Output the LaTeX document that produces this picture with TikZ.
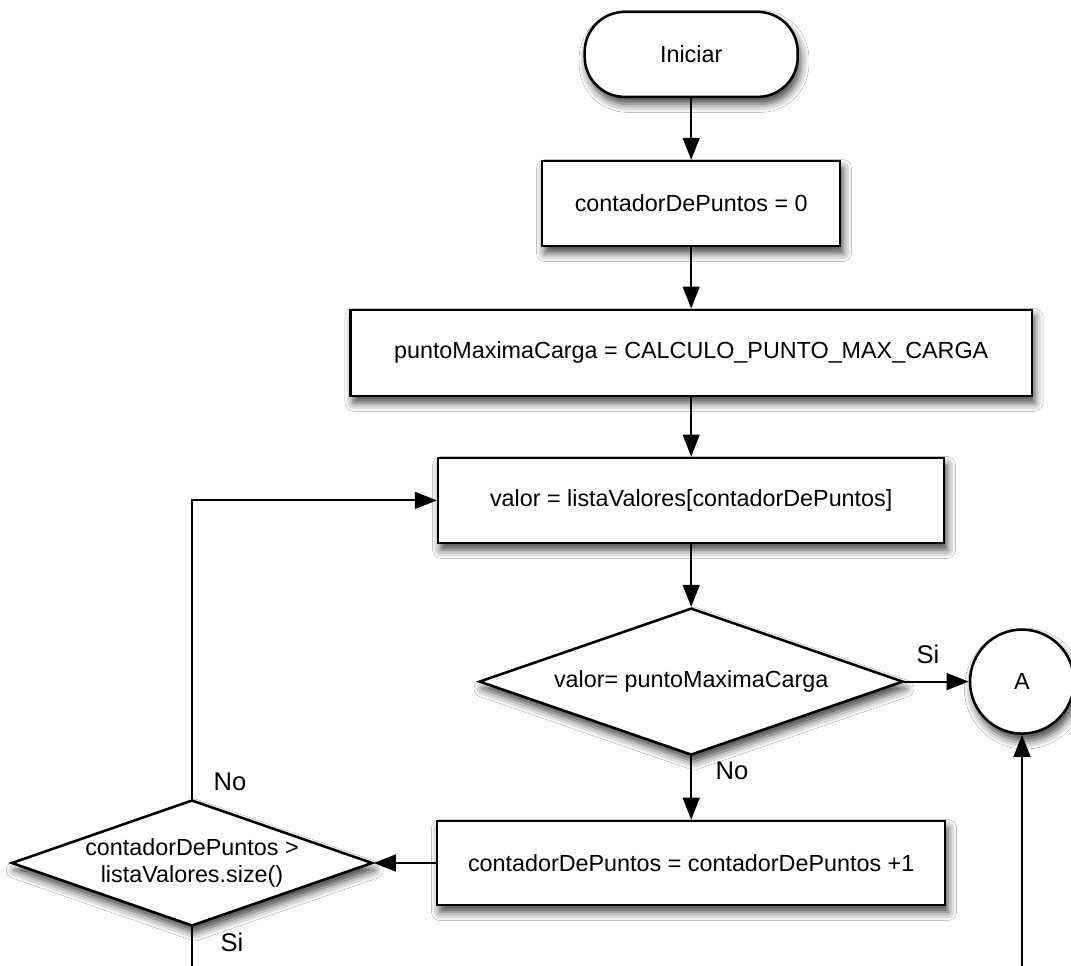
\documentclass[tikz,border=0pt]{standalone}
\usepackage{fontspec}
\setmainfont{Liberation Sans}
\usepackage{tikz}
\usetikzlibrary{arrows.meta,shapes.geometric,shadows.blur}

\begin{document}
\begin{tikzpicture}[
  font=\fontsize{16.6}{19.5}\selectfont,
  sh/.style={blur shadow={shadow xshift=2pt,shadow yshift=-5pt,shadow blur radius=6pt,shadow opacity=75}},
  proc/.style={draw,line width=1.8pt,fill=white,rectangle,inner sep=0pt,sh},
  term/.style={proc,rounded corners=1cm},
  dec/.style={draw,line width=1.8pt,fill=white,diamond,inner sep=0pt,align=center,sh},
  conn/.style={line width=1.4pt,-{Triangle[length=.55cm,width=.42cm]}},
  wire/.style={line width=1.4pt},
  lbl/.style={font=\fontsize{18.2}{21}\selectfont}]
\useasboundingbox[fill=white] (0,0) rectangle (26.775,24.15);

% main column
\node[term,minimum width=5.325cm,minimum height=2.125cm] (ini) at (17.28,22.79) {Iniciar};
\node[proc,minimum width=7.45cm,minimum height=2.125cm] (c0) at (17.28,19.06) {contadorDePuntos = 0};
\node[proc,minimum width=17.03cm,minimum height=2.15cm] (pm) at (17.28,15.33) {puntoMaximaCarga = CALCULO\_PUNTO\_MAX\_CARGA};
\node[proc,minimum width=12.65cm,minimum height=2.125cm] (val) at (17.28,11.64) {valor = listaValores[contadorDePuntos]};
\node[dec,aspect=2.9,minimum width=10.6cm,minimum height=3.675cm] (d1) at (17.28,7.11) {valor= puntoMaximaCarga};
\node[proc,minimum width=12.7cm,minimum height=2.1cm] (pl) at (17.28,2.575) {contadorDePuntos = contadorDePuntos +1};

% side nodes
\node[draw,line width=1.8pt,fill=white,circle,minimum size=2.6cm,inner sep=0pt,sh] (A) at (25.55,7.11) {A};
\node[dec,aspect=2.865,minimum width=9.025cm,minimum height=3.15cm] (d2) at (4.8,2.575) {contadorDePuntos >\\listaValores.size()};

\coordinate (bl) at (4.8,0);
\coordinate (br) at (25.55,0);

\draw[conn] (ini) -- (c0);
\draw[conn] (c0) -- (pm);
\draw[conn] (pm) -- (val);
\draw[conn] (val) -- (d1);
\draw[conn] (d1) -- (A);
\draw[conn] (d1) -- (pl);
\draw[conn] (pl) -- (d2);
\draw[conn] (d2.north) |- (val.west);
\draw[wire] (d2.south) -- (bl);
\draw[conn] (br) -- (A.south);

\node[lbl] (si1) at (23.2,7.78) {Si};
\node[lbl] (no1) at (18.3,4.88) {No};
\node[lbl] (no2) at (5.75,4.6) {No};
\node[lbl] (si2) at (5.8,0.6) {Si};
\end{tikzpicture}
\end{document}
